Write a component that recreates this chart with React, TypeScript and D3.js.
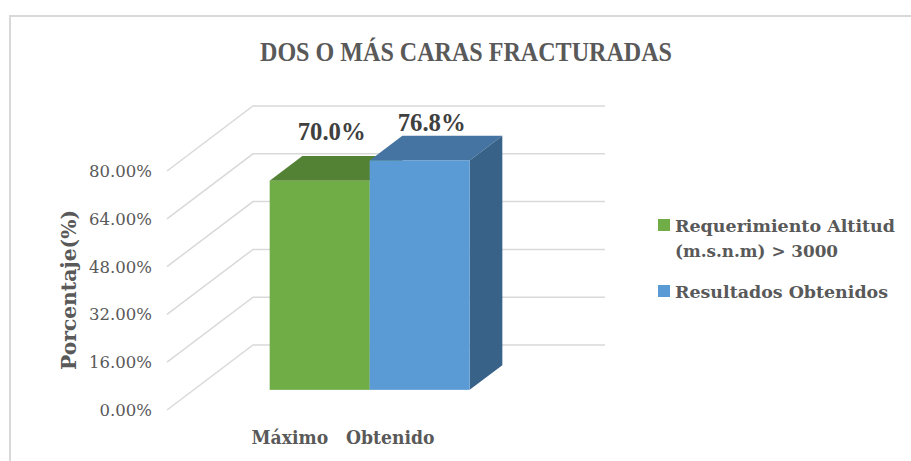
import React from "react";
import * as d3 from "d3";

const title = "DOS O MÁS CARAS FRACTURADAS";
const categories = ["Máximo   Obtenido"];
const seriesNames = ["Requerimiento Altitud (m.s.n.m) > 3000", "Resultados Obtenidos"];
const legendLines = [["Requerimiento Altitud", "(m.s.n.m) > 3000"], ["Resultados Obtenidos"]];
const seriesValues = [70.0, 76.8];
const valueLabels = ["70.0%", "76.8%"];
const yTicks = [0, 16, 32, 48, 64, 80];
const yTickLabels = ["0.00%", "16.00%", "32.00%", "48.00%", "64.00%", "80.00%"];
const yTitle = "Porcentaje(%)";

const W = 911;
const H = 461;
const frontLeft = 167;
const frontRight = 519;
const floorY = 410;
const depthDx = 86;
const depthDy = -65;
const barD0 = 0.31;
const barD1 = 0.69;

const faceColors = [
  { front: "#70AD47", top: "#548235", side: "#4E7A32" },
  { front: "#5B9BD5", top: "#4674A2", side: "#386288" },
];

export default function App() {
  const yScale = d3.scaleLinear().domain([0, 80]).range([0, 239]);
  const xCat = d3.scaleBand().domain(categories).range([frontLeft, frontRight]);
  const xSeries = d3
    .scaleBand()
    .domain(seriesNames)
    .range([0, xCat.bandwidth()])
    .paddingInner(0)
    .paddingOuter(0.76);

  const grid = "#D9D9D9";
  const txt = "#595959";

  const bars = seriesNames.map((s, i) => {
    const x0 = (xCat(categories[0]) as number) + (xSeries(s) as number) + depthDx * barD0;
    const x1 = x0 + xSeries.bandwidth();
    const yb = floorY + depthDy * barD0;
    const yt = yb - yScale(seriesValues[i]);
    const ddx = depthDx * (barD1 - barD0);
    const ddy = depthDy * (barD1 - barD0);
    return { x0, x1, yb, yt, ddx, ddy, c: faceColors[i], label: valueLabels[i] };
  });

  return (
    <svg width={W} height={H} style={{ position: "absolute", left: 0, top: 0, background: "#fff" }}>
      <rect x={0} y={0} width={W} height={H} fill="#fff" />
      <path d={`M10,${H} L10,16 L${W},16`} fill="none" stroke={grid} strokeWidth={2} />
      <text
        x={466}
        y={61}
        textAnchor="middle"
        fontFamily="'Liberation Serif', serif"
        fontWeight="bold"
        fontSize={27}
        fill={txt}
        textLength={412}
        lengthAdjust="spacingAndGlyphs"
      >
        {title}
      </text>

      {yTicks.map((t, i) => {
        const yf = floorY - yScale(t);
        return (
          <g key={t}>
            <path
              d={`M${frontLeft},${yf} L${frontLeft + depthDx},${yf + depthDy} L${frontRight + depthDx},${yf + depthDy}`}
              fill="none"
              stroke={grid}
              strokeWidth={1.5}
            />
            <text
              x={152}
              y={yf + 6}
              textAnchor="end"
              fontFamily="'DejaVu Serif', serif"
              fontSize={16.5}
              fill={txt}
            >
              {yTickLabels[i]}
            </text>
          </g>
        );
      })}

      {bars.map((b, i) => (
        <g key={i}>
          <polygon
            points={`${b.x0},${b.yt} ${b.x0 + b.ddx},${b.yt + b.ddy} ${b.x1 + b.ddx},${b.yt + b.ddy} ${b.x1},${b.yt}`}
            fill={b.c.top}
          />
          <polygon
            points={`${b.x1},${b.yt} ${b.x1 + b.ddx},${b.yt + b.ddy} ${b.x1 + b.ddx},${b.yb + b.ddy} ${b.x1},${b.yb}`}
            fill={b.c.side}
          />
          <rect x={b.x0} y={b.yt} width={b.x1 - b.x0} height={b.yb - b.yt} fill={b.c.front} />
        </g>
      ))}

      {bars.map((b, i) => (
        <text
          key={"l" + i}
          x={(b.x0 + b.x1) / 2 + 12}
          y={Math.max(b.yt + b.ddy - 16, 131)}
          textAnchor="middle"
          fontFamily="'Liberation Serif', serif"
          fontWeight="bold"
          fontSize={25}
          fill="#404040"
          textLength={68}
          lengthAdjust="spacingAndGlyphs"
        >
          {b.label}
        </text>
      ))}

      <text
        x={343}
        y={444}
        textAnchor="middle"
        fontFamily="'DejaVu Serif', serif"
        fontWeight="bold"
        fontSize={18.5}
        fill={txt}
        textLength={183}
        lengthAdjust="spacingAndGlyphs"
        style={{ whiteSpace: "pre" }}
      >
        {categories[0]}
      </text>

      <text
        transform="translate(76,290) rotate(-90)"
        textAnchor="middle"
        fontFamily="'DejaVu Serif', serif"
        fontWeight="bold"
        fontSize={21}
        fill={txt}
        textLength={160}
        lengthAdjust="spacingAndGlyphs"
      >
        {yTitle}
      </text>

      {legendLines.map((lines, i) => {
        const top = i === 0 ? 219 : 285;
        return (
          <g key={"lg" + i}>
            <rect x={658} y={top} width={12} height={12} fill={faceColors[i].front} />
            {lines.map((ln, j) => (
              <text
                key={j}
                x={675}
                y={top + 12.5 + j * 25}
                fontFamily="'DejaVu Serif', serif"
                fontWeight="bold"
                fontSize={17.5}
                fill={txt}
                textLength={j === 0 ? (i === 0 ? 220 : 213) : 163}
                lengthAdjust="spacingAndGlyphs"
              >
                {ln}
              </text>
            ))}
          </g>
        );
      })}
    </svg>
  );
}
